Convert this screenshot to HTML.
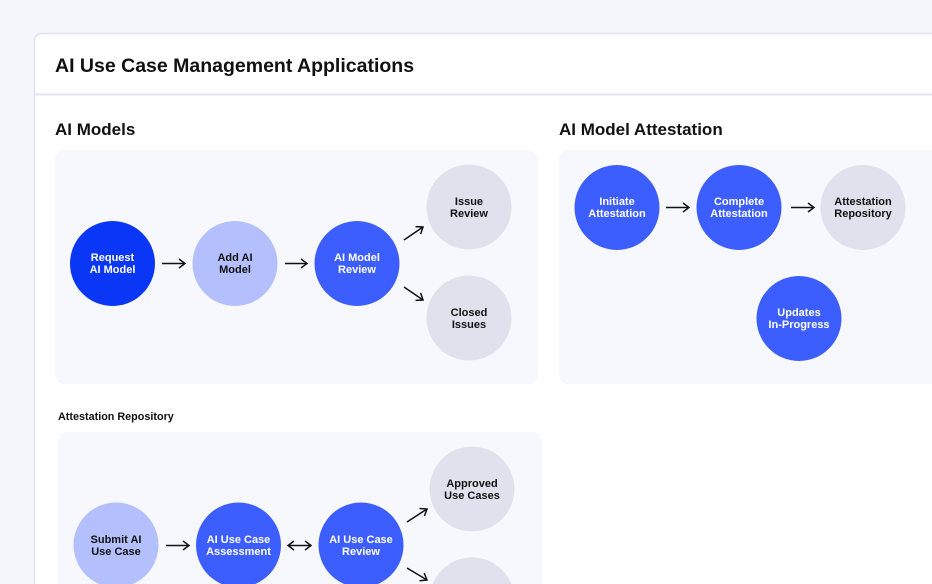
<!DOCTYPE html>
<html><head><meta charset="utf-8"><style>
html,body{margin:0;padding:0;background:#f6f7fc;width:932px;height:584px;overflow:hidden;}
svg{display:block;}
text{font-family:"Liberation Sans",sans-serif;font-weight:bold;}
</style></head><body>
<svg width="932" height="584" viewBox="0 0 932 584" xmlns="http://www.w3.org/2000/svg">
<defs>
<marker id="a" markerWidth="10" markerHeight="10" refX="8" refY="5" orient="auto" markerUnits="userSpaceOnUse">
<path d="M2,0.5 L8,5 L2,9.5" fill="none" stroke="#111" stroke-width="1.5"/></marker>
<marker id="b" markerWidth="10" markerHeight="10" refX="8" refY="5" orient="auto-start-reverse" markerUnits="userSpaceOnUse">
<path d="M2,0.5 L8,5 L2,9.5" fill="none" stroke="#111" stroke-width="1.5"/></marker>
</defs>
<rect x="0" y="0" width="932" height="584" fill="#f6f7fc"/>
<path d="M34.5,584 V41.5 Q34.5,33.5 42.5,33.5 H932 V584 Z" fill="#fff"/>
<path d="M34.5,584 V41.5 Q34.5,33.5 42.5,33.5 H932" fill="none" stroke="#e1e3f0" stroke-width="1.5"/>
<line x1="35" y1="94.5" x2="932" y2="94.5" stroke="#e4e5f2" stroke-width="2"/>
<text x="55" y="72" font-size="19.5" fill="#111">AI Use Case Management Applications</text>
<text x="55" y="135" font-size="17" fill="#111">AI Models</text>
<text x="559" y="135" font-size="17" fill="#111">AI Model Attestation</text>
<rect x="55" y="150" width="483" height="234" rx="10" fill="#f7f8fe"/>
<path d="M559,374 V160 Q559,150 569,150 H932 V384 H569 Q559,384 559,374 Z" fill="#f7f8fe"/>
<text x="58" y="420" font-size="10.8" fill="#111">Attestation Repository</text>
<path d="M58,584 V442 Q58,432 68,432 H532 Q542,432 542,442 V584 Z" fill="#f7f8fe"/>

<g font-size="11" text-anchor="middle">
<circle cx="112.5" cy="263.5" r="42.5" fill="#0a36f6"/>
<text x="112.5" y="261" fill="#fff">Request</text><text x="112.5" y="273" fill="#fff">AI Model</text>
<circle cx="235" cy="263.5" r="42.5" fill="#b3c0fd"/>
<text x="235" y="261" fill="#111">Add AI</text><text x="235" y="273" fill="#111">Model</text>
<circle cx="357" cy="263.5" r="42.5" fill="#3d5efe"/>
<text x="357" y="261" fill="#fff">AI Model</text><text x="357" y="273" fill="#fff">Review</text>
<circle cx="469" cy="207" r="42.5" fill="#e0e1ec"/>
<text x="469" y="205" fill="#111">Issue</text><text x="469" y="217" fill="#111">Review</text>
<circle cx="469" cy="318" r="42.5" fill="#e0e1ec"/>
<text x="469" y="316" fill="#111">Closed</text><text x="469" y="328" fill="#111">Issues</text>

<circle cx="617" cy="207.5" r="42.5" fill="#3d5efe"/>
<text x="617" y="205" fill="#fff">Initiate</text><text x="617" y="217" fill="#fff">Attestation</text>
<circle cx="739" cy="207.5" r="42.5" fill="#3d5efe"/>
<text x="739" y="205" fill="#fff">Complete</text><text x="739" y="217" fill="#fff">Attestation</text>
<circle cx="863" cy="207.5" r="42.5" fill="#e0e1ec"/>
<text x="863" y="205" fill="#111">Attestation</text><text x="863" y="217" fill="#111">Repository</text>
<circle cx="799" cy="318.5" r="42.5" fill="#3d5efe"/>
<text x="799" y="316" fill="#fff">Updates</text><text x="799" y="328" fill="#fff">In-Progress</text>

<path d="M99.1,584 A42.5,42.5 0 1 1 132.9,584 Z" fill="#b3c0fd"/>
<text x="116" y="543" fill="#111">Submit AI</text><text x="116" y="555" fill="#111">Use Case</text>
<path d="M221.6,584 A42.5,42.5 0 1 1 255.4,584 Z" fill="#3d5efe"/>
<text x="238.5" y="543" fill="#fff">AI Use Case</text><text x="238.5" y="555" fill="#fff">Assessment</text>
<path d="M344.1,584 A42.5,42.5 0 1 1 377.9,584 Z" fill="#3d5efe"/>
<text x="361" y="543" fill="#fff">AI Use Case</text><text x="361" y="555" fill="#fff">Review</text>
<circle cx="472" cy="489" r="42.5" fill="#e0e1ec"/>
<text x="472" y="487" fill="#111">Approved</text><text x="472" y="499" fill="#111">Use Cases</text>
<path d="M432.6,584 A42.5,42.5 0 0 1 511.4,584 Z" fill="#e0e1ec"/>
</g>

<g stroke="#111" stroke-width="1.5" fill="none">
<line x1="162" y1="263.5" x2="185" y2="263.5" marker-end="url(#a)"/>
<line x1="285" y1="263.5" x2="307" y2="263.5" marker-end="url(#a)"/>
<line x1="404" y1="240" x2="423" y2="227" marker-end="url(#a)"/>
<line x1="404" y1="287" x2="423" y2="300" marker-end="url(#a)"/>
<line x1="666" y1="207.5" x2="689" y2="207.5" marker-end="url(#a)"/>
<line x1="791" y1="207.5" x2="814" y2="207.5" marker-end="url(#a)"/>
<line x1="166" y1="545.5" x2="189" y2="545.5" marker-end="url(#a)"/>
<line x1="288" y1="545.5" x2="311" y2="545.5" marker-start="url(#b)" marker-end="url(#b)"/>
<line x1="407" y1="522" x2="427" y2="509" marker-end="url(#a)"/>
<line x1="407" y1="568" x2="427" y2="580" marker-end="url(#a)"/>
</g>
</svg>
</body></html>
